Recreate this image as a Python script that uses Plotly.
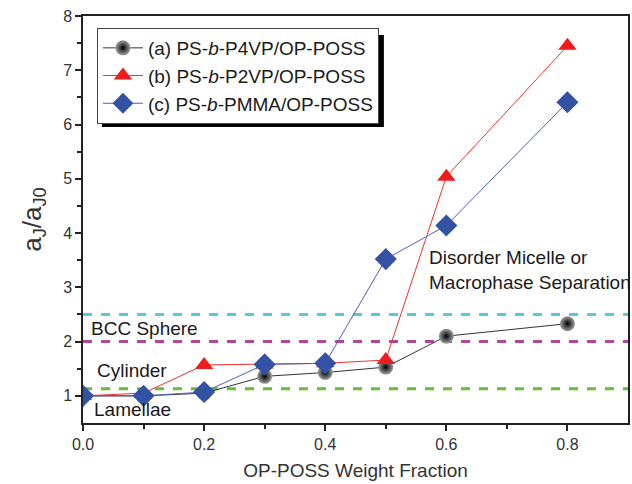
import plotly.graph_objects as go

x_frac = [0.0, 0.1, 0.2, 0.3, 0.4, 0.5, 0.6, 0.8]
p4vp = [1.0, 1.0, 1.05, 1.36, 1.43, 1.53, 2.10, 2.33]
p2vp = [1.0, 1.05, 1.57, 1.58, 1.60, 1.66, 5.04, 7.45]
pmma = [1.0, 1.0, 1.07, 1.58, 1.60, 3.52, 4.14, 6.41]

series_names = ["(a) PS-<i>b</i>-P4VP/OP-POSS",
                "(b) PS-<i>b</i>-P2VP/OP-POSS",
                "(c) PS-<i>b</i>-PMMA/OP-POSS"]

boundary_values = [2.5, 2.0, 1.13]
boundary_colors = ["#5cc6dc", "#b4449e", "#66bb3a"]

FONT = "Liberation Sans, Arial, sans-serif"

fig = go.Figure()

for yv, col in zip(boundary_values, boundary_colors):
    fig.add_trace(go.Scatter(x=[0, 0.9], y=[yv, yv], mode="lines",
                             line=dict(color=col, width=3, dash="dash"),
                             showlegend=False, hoverinfo="skip"))

fig.add_trace(go.Scatter(x=x_frac, y=p4vp, mode="lines+markers", name=series_names[0],
                         line=dict(color="#333333", width=1),
                         marker=dict(symbol="circle", size=15, color="#a0a0a0",
                                     gradient=dict(type="radial", color="#000000"),
                                     line=dict(width=0))))
fig.add_trace(go.Scatter(x=x_frac, y=p2vp, mode="lines+markers", name=series_names[1],
                         line=dict(color="#f03030", width=1),
                         marker=dict(symbol="triangle-up", size=16, color="#ee1c1c",
                                     line=dict(width=0))))
fig.add_trace(go.Scatter(x=x_frac, y=pmma, mode="lines+markers", name=series_names[2],
                         line=dict(color="#5060b8", width=1),
                         marker=dict(symbol="diamond", size=17, color="#3452a4",
                                     line=dict(width=0))))

ann = [
    dict(x=0.01, y=2.25, text="BCC Sphere"),
    dict(x=0.02, y=1.46, text="Cylinder"),
    dict(x=0.015, y=0.74, text="Lamellae"),
    dict(x=0.568, y=3.32, text="Disorder Micelle or<br>Macrophase Separation"),
]
for a in ann:
    fig.add_annotation(x=a["x"], y=a["y"], text=a["text"], showarrow=False,
                       xanchor="left", yanchor="middle", align="left",
                       font=dict(family=FONT, size=19, color="#1a1a1a"))

# legend shadow (legend is drawn over it; only offset edge shows)
fig.add_shape(type="rect", xref="paper", yref="paper",
              x0=(102 - 83) / 547, x1=(385 - 83) / 547,
              y0=(423 - 127) / 407, y1=(423 - 35) / 407,
              fillcolor="black", line=dict(width=0), layer="below")

fig.update_layout(
    width=632, height=484,
    margin=dict(l=83, r=2, t=16, b=61),
    paper_bgcolor="white", plot_bgcolor="white",
    font=dict(family=FONT, color="#333333"),
    showlegend=True,
    legend=dict(x=(97 - 83) / 547, y=(423 - 28) / 407, xanchor="left", yanchor="top",
                bgcolor="white", bordercolor="#444444", borderwidth=1,
                font=dict(family=FONT, size=19, color="#1a1a1a"),
                itemwidth=40, tracegroupgap=0),
    xaxis=dict(range=[0, 0.9], tickvals=[0, 0.2, 0.4, 0.6, 0.8],
               ticktext=["0.0", "0.2", "0.4", "0.6", "0.8"],
               ticks="outside", ticklen=6, tickwidth=1.5, tickcolor="#222",
               minor=dict(tickvals=[0.1, 0.3, 0.5, 0.7], ticks="outside", ticklen=4,
                          tickwidth=1.5, tickcolor="#222"),
               showline=True, linecolor="#222", linewidth=1.5, mirror=True,
               showgrid=False, zeroline=False,
               tickfont=dict(size=16, color="#333"),
               title=dict(text="OP-POSS Weight Fraction", font=dict(size=19, color="#333"),
                          standoff=12)),
    yaxis=dict(range=[0.5, 8], tickvals=[1, 2, 3, 4, 5, 6, 7, 8],
               ticks="outside", ticklen=6, tickwidth=1.5, tickcolor="#222",
               minor=dict(tickvals=[1.5, 2.5, 3.5, 4.5, 5.5, 6.5, 7.5], ticks="outside",
                          ticklen=4, tickwidth=1.5, tickcolor="#222"),
               showline=True, linecolor="#222", linewidth=1.5, mirror=True,
               showgrid=False, zeroline=False,
               tickfont=dict(size=16, color="#333"),
               title=dict(text="a<sub>J</sub>/a<sub>J0</sub>", font=dict(size=26, color="#333"),
                          standoff=14)),
)

fig.write_html("out.html")
